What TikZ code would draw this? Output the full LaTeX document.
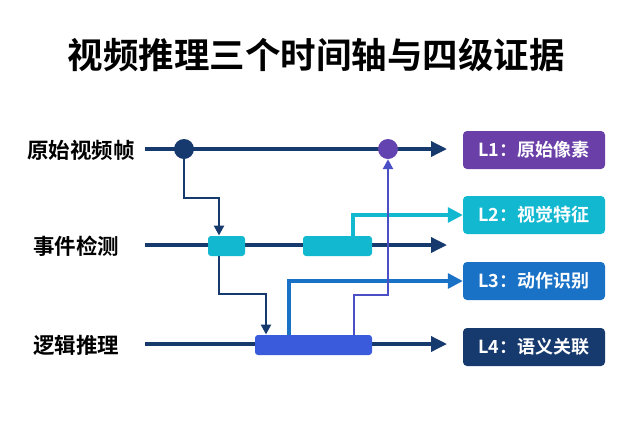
\documentclass[tikz,border=0pt]{standalone}
\usepackage{fontspec}
\setmainfont{Noto Sans CJK SC}
\newfontfamily\cjkb{Noto Sans CJK SC Bold}
\usetikzlibrary{arrows.meta}
\definecolor{navy}{HTML}{163A6E}
\definecolor{purp}{HTML}{6A3FA8}
\definecolor{cyan1}{HTML}{12B8D0}
\definecolor{blue1}{HTML}{1A72C6}
\definecolor{indigo}{HTML}{3A5BDC}
\definecolor{vio}{HTML}{4B4FC6}
\begin{document}
\begin{tikzpicture}[x=1pt,y=-1pt,
  axis/.style={navy,line width=3.5pt,-{Triangle[length=16pt,width=15pt]}},
  conn/.style={line width=2.6pt,-{Triangle[length=10pt,width=10pt]}},
  big/.style={line width=3.2pt,-{Triangle[length=15pt,width=15pt]}},
  lab/.style={font=\cjkb\fontsize{21.5}{21.5}\selectfont,text=black},
  lvl/.style={rounded corners=4pt,minimum width=142pt,minimum height=38pt,text=white,font=\cjkb\fontsize{18}{18}\selectfont},
  seg/.style={rounded corners=3pt,inner sep=0pt}]
\useasboundingbox[fill=white] (0,0) rectangle (632,424);
\node[font=\cjkb\fontsize{35.5}{35.5}\selectfont] (title) at (316,55) {视频推理三个时间轴与四级证据};
\node[lab] (t1) at (81,150) {原始视频帧};
\node[lab] (t2) at (76,246) {事件检测};
\node[lab] (t3) at (76,345) {逻辑推理};
\coordinate (s1) at (145,149); \coordinate (e1) at (447,149);
\coordinate (s2) at (145,245); \coordinate (e2) at (447,245);
\coordinate (s3) at (145,344); \coordinate (e3) at (447,344);
\draw[axis] (s1)--(e1);
\draw[axis] (s2)--(e2);
\draw[axis] (s3)--(e3);
\node[circle,fill=navy,minimum size=20pt,inner sep=0pt] (d1) at (184,149) {};
\node[circle,fill=purp!85!indigo,minimum size=20pt,inner sep=0pt] (d2) at (388,149) {};
\node[seg,fill=cyan1,minimum width=37pt,minimum height=20pt] (bA) at (226.5,246) {};
\node[seg,fill=cyan1,minimum width=69pt,minimum height=20pt] (bB) at (337.5,246) {};
\node[seg,fill=indigo,minimum width=117pt,minimum height=20pt] (bC) at (313.5,345) {};
\node[lvl,fill=purp] (L1) at (534,150) {L1：原始像素};
\node[lvl,fill=cyan1] (L2) at (534,215) {L2：视觉特征};
\node[lvl,fill=blue1] (L3) at (534,281) {L3：动作识别};
\node[lvl,fill=navy] (L4) at (534,347) {L4：语义关联};
\draw[conn,navy] (d1.south) |- (219,198) -- (219,235.5);
\draw[conn,navy] (bA.south -| 219,0) -- (219,294) -- (266,294) -- (266,334.5);
\draw[big,cyan1] (353,236) |- (L2.west);
\draw[big,blue1] (289,335) |- (L3.west);
\draw[conn,vio] (354,335) -- (354,295) -- (388,295) -- (d2.south);
\end{tikzpicture}
\end{document}
